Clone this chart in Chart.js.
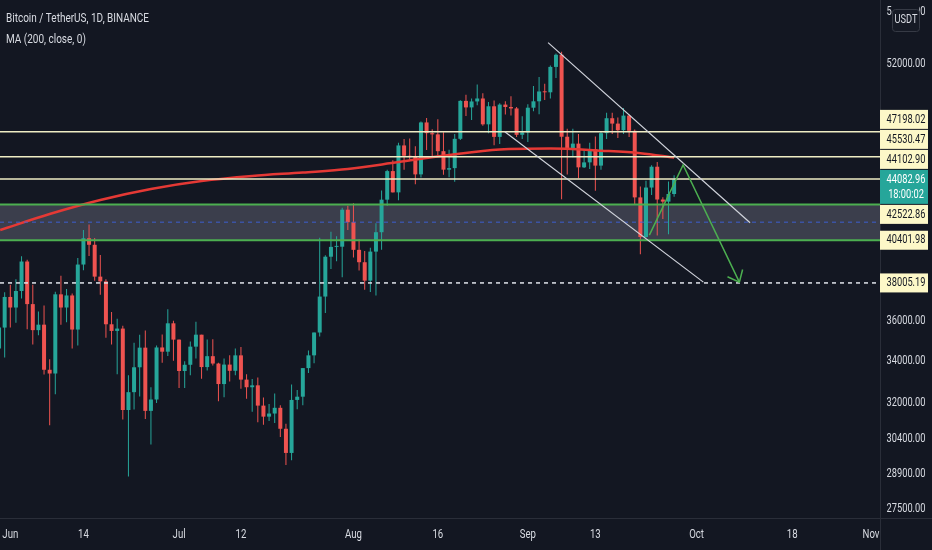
<!DOCTYPE html>
<html>
<head>
<meta charset="utf-8">
<title>BTCUSDT 1D</title>
<script src="https://cdn.jsdelivr.net/npm/chart.js@4.4.1/dist/chart.umd.min.js"></script>
<style>
  html, body { margin: 0; padding: 0; background: #131722; }
  #wrap { width: 932px; height: 550px; }
</style>
</head>
<body>
<div id="wrap"><canvas id="btcChart" width="932" height="550"></canvas></div>
<script>
// daily candles from 30 May 2021 (the last one, 27 Sep, is still open)
const firstDate = '2021-05-30';
const opens = [
  34600, 35650,
  37250, 36690, 37570, 39190, 36870, 35520, 35800, 33560, 33380, 37390, 36690, 37330, 35550, 39020, 40520,
  40140, 38350, 38090, 35820, 35480, 35600, 31680, 32500, 33680, 34640, 31640, 32160, 34650, 34440, 35870,
  35040, 33500, 33800, 34690, 35290, 33690, 34220, 33860, 32880, 33810, 33510, 34260, 33090, 32730, 32820, 31880,
  31380, 31520, 31780, 30840, 29790, 32140, 32290, 33640, 34260, 35400, 37270, 39460, 40020, 40030, 42210,
  41460, 39850, 39150, 38130, 39750, 40870, 42820, 44610, 43270, 46280, 45600, 45530, 44400, 47830, 47100, 47020,
  45900, 44700, 44800, 46720, 49330, 48870, 49290, 49500, 47700, 48950, 46850, 49070, 48900, 48800, 46990,
  47150, 48850, 49300, 50000, 49940, 51790, 52700, 46860, 46070, 46400, 44850, 45170, 46030, 44960, 47100,
  48120, 47750, 47300, 48300, 47260, 42960, 40590, 43570, 44890, 42830, 42700, 43170
];
const highs = [
  36400, 37500,
  37900, 38200, 39480, 39290, 37900, 36480, 36790, 34070, 37530, 38400, 37680, 37440, 39390, 41000, 41330,
  40530, 39560, 38200, 36460, 36100, 35750, 33300, 34880, 35290, 35500, 32730, 34750, 35300, 36600, 36000,
  35050, 33970, 34950, 35950, 35290, 35050, 35060, 33900, 34100, 34260, 34600, 34670, 33340, 33120, 33190, 32250,
  31950, 32440, 31900, 31060, 32860, 32600, 33650, 34500, 35400, 40550, 39540, 40900, 40640, 42320, 42450,
  42600, 40460, 39780, 39970, 41400, 43390, 44700, 45310, 46450, 46700, 46750, 46220, 47890, 48140, 47370, 48050,
  47160, 46000, 47050, 49380, 49760, 49500, 50500, 49870, 49250, 49350, 49170, 49300, 49650, 48900, 48250,
  49100, 50400, 51050, 50560, 51900, 52800, 52920, 47400, 47400, 47050, 45990, 46460, 46880, 47250, 48490,
  48500, 48170, 48830, 48380, 47350, 43640, 44000, 44990, 45200, 42970, 43950, 44350
];
const lows = [
  33400, 34150,
  35650, 35900, 37170, 35570, 34800, 35260, 33330, 31000, 32400, 35800, 35920, 34600, 34750, 38700, 39500,
  38120, 37370, 35130, 34800, 33350, 31250, 28800, 31700, 32300, 31270, 30150, 32000, 33900, 34230, 34000,
  32700, 32700, 33300, 34100, 33130, 33530, 33770, 32080, 32260, 33000, 33300, 32660, 32200, 31600, 31130, 31020,
  31180, 31100, 30480, 29280, 29480, 31710, 31900, 33400, 33880, 35200, 36400, 38770, 39200, 38320, 41000,
  39420, 38690, 37640, 37510, 37330, 39850, 42450, 43260, 42780, 44700, 45350, 43770, 44200, 45970, 45520, 45600,
  44380, 44210, 43930, 46640, 48280, 48000, 49030, 47600, 47100, 46300, 46370, 48370, 48300, 46850, 46700,
  46500, 48600, 48400, 49400, 49500, 50970, 42850, 44400, 45500, 44150, 44800, 44740, 43370, 44700, 46700,
  47040, 46770, 47050, 46850, 42500, 39600, 40560, 43100, 40680, 41650, 40750, 43000
];
const closes = [
  35650, 37250,
  36690, 37570, 39190, 36870, 35520, 35800, 33560, 33380, 37390, 36690, 37330, 35550, 39020, 40520, 40140,
  38350, 38090, 35820, 35480, 35600, 31680, 32500, 33680, 34640, 31640, 32160, 34650, 34440, 35870, 35040,
  33500, 33800, 34690, 35290, 33690, 34220, 33860, 32880, 33810, 33510, 34260, 33090, 32730, 32820, 31880, 31380,
  31520, 31780, 30840, 29790, 32140, 32290, 33640, 34260, 35400, 37270, 39460, 40020, 40030, 42210, 41460,
  39850, 39150, 38130, 39750, 40870, 42820, 44610, 43270, 46280, 45600, 45530, 44400, 47830, 47100, 47020, 45900,
  44700, 44800, 46720, 49330, 48870, 49290, 49500, 47700, 48950, 46850, 49070, 48900, 48800, 46990, 47150,
  48850, 49300, 50000, 49940, 51790, 52700, 46860, 46070, 46400, 44850, 45170, 46030, 44960, 47100, 48120,
  47750, 47300, 48300, 47260, 42960, 40590, 43570, 44890, 42830, 42700, 43170, 44082.96
];

// time axis: days counted from 1 Jun 2021
const tickDays = [0, 13, 30, 41, 61, 76, 92, 104, 122, 139, 153];
const tickLabels = ['Jun', '14', 'Jul', '12', 'Aug', '16', 'Sep', '13', 'Oct', '18', 'Nov'];
const priceTicks = [56000, 52000, 36000, 34000, 32000, 30400, 28900, 27500];

// MA 200 at a few days
const maDays = [-1.8, 7, 16, 25, 34, 43, 52, 60, 69, 78, 87, 96, 105, 112, 118];
const maValues = [41000, 41950, 42800, 43480, 43980, 44300, 44520, 44740, 45190, 45650, 46010, 46070, 45930, 45770, 45480];

// horizontal levels
const levels = [47198.02, 45530.47, 44102.90];
const zone = [40401.98, 42522.86];
const support = 38005.19;
const lastPrice = 44082.96;
const countdown = '18:00:02';

// hand drawings as [day, price]
const channelTop = [[95.6, 53620], [131.5, 41430]];
const channelBottom = [[87.9, 47198], [123.2, 38050]];
const projection = [[113.6, 40700], [119.6, 45000], [129.6, 38050]];

const UP = '#26a69a';
const DOWN = '#ef5350';
const BG = '#131722';
const TEXT = '#d8dbe2';
const FONT = "Roboto, 'DejaVu Sans', sans-serif";
const SQUEEZE = 0.74; // the screenshot is horizontally compressed

const dayZero = (Date.parse(firstDate) - Date.parse('2021-06-01')) / 86400000;
const days = opens.map((_, i) => dayZero + i);
const candleColors = closes.map((c, i) => c >= opens[i] ? UP : DOWN);

function squeezed(ctx, text, x, y, align, size, color) {
  ctx.save();
  ctx.font = size + 'px ' + FONT;
  ctx.fillStyle = color;
  ctx.textBaseline = 'middle';
  ctx.textAlign = align;
  ctx.translate(x, y);
  ctx.scale(SQUEEZE, 1);
  ctx.fillText(text, 0, 0);
  ctx.restore();
}

function hline(ctx, area, y, color, width, dash) {
  ctx.save();
  ctx.strokeStyle = color;
  ctx.lineWidth = width;
  ctx.setLineDash(dash || []);
  ctx.beginPath();
  ctx.moveTo(area.left, y);
  ctx.lineTo(area.right, y);
  ctx.stroke();
  ctx.restore();
}

function polyline(chart, pts, color, width) {
  const {ctx, scales: {x, y}} = chart;
  ctx.save();
  ctx.strokeStyle = color;
  ctx.lineWidth = width;
  ctx.beginPath();
  pts.forEach((p, i) => {
    const px = x.getPixelForValue(p[0]), py = y.getPixelForValue(p[1]);
    if (i === 0) ctx.moveTo(px, py); else ctx.lineTo(px, py);
  });
  ctx.stroke();
  ctx.restore();
}

const drawings = {
  id: 'drawings',
  beforeDatasetsDraw(chart) {
    const {ctx, chartArea: a, scales: {y}} = chart;
    const top = y.getPixelForValue(zone[1]);
    const bot = y.getPixelForValue(zone[0]);
    ctx.save();
    ctx.fillStyle = 'rgba(120, 123, 140, 0.4)';
    ctx.fillRect(a.left, top, a.right - a.left, bot - top);
    ctx.restore();
  },
  afterDatasetsDraw(chart) {
    const {ctx, chartArea: a, scales: {x, y}} = chart;
    hline(ctx, a, y.getPixelForValue((zone[0] + zone[1]) / 2), 'rgba(60, 100, 230, 0.85)', 1, [4, 4]);
    hline(ctx, a, y.getPixelForValue(zone[1]), '#4caf50', 2);
    hline(ctx, a, y.getPixelForValue(zone[0]), '#4caf50', 2);
    levels.forEach(p => hline(ctx, a, y.getPixelForValue(p), '#efedc4', 1.5));
    hline(ctx, a, y.getPixelForValue(support), '#e0e3eb', 1.5, [4, 4]);

    ctx.save();
    ctx.beginPath();
    ctx.rect(a.left, a.top, a.right - a.left, a.bottom - a.top);
    ctx.clip();
    polyline(chart, channelTop, '#d1d4dc', 1.2);
    polyline(chart, channelBottom, '#d1d4dc', 1.2);
    polyline(chart, projection, '#4caf50', 1.5);
    // arrow head on the projection
    const n = projection.length;
    const tx = x.getPixelForValue(projection[n - 1][0]), ty = y.getPixelForValue(projection[n - 1][1]);
    const fx = x.getPixelForValue(projection[n - 2][0]), fy = y.getPixelForValue(projection[n - 2][1]);
    const ang = Math.atan2(fy - ty, fx - tx);
    ctx.strokeStyle = '#4caf50';
    ctx.lineWidth = 1.5;
    ctx.beginPath();
    ctx.moveTo(tx + 13 * Math.cos(ang - 0.7), ty + 13 * Math.sin(ang - 0.7));
    ctx.lineTo(tx, ty);
    ctx.lineTo(tx + 13 * Math.cos(ang + 0.7), ty + 13 * Math.sin(ang + 0.7));
    ctx.stroke();
    ctx.restore();
  },
  afterDraw(chart) {
    const {ctx, chartArea: a, scales: {x, y}} = chart;
    const W = chart.width, H = chart.height;
    ctx.save();
    // pane borders
    ctx.strokeStyle = '#2a2e39';
    ctx.lineWidth = 1;
    ctx.beginPath();
    ctx.moveTo(a.right + 0.5, 0); ctx.lineTo(a.right + 0.5, H);
    ctx.moveTo(0, a.bottom + 0.5); ctx.lineTo(W, a.bottom + 0.5);
    ctx.stroke();
    ctx.restore();

    // axis labels
    x.ticks.forEach((t, i) => squeezed(ctx, tickLabels[i], x.getPixelForValue(t.value), a.bottom + 17, 'center', 13, TEXT));
    const mid = a.right + (W - a.right) / 2;
    y.ticks.forEach(t => squeezed(ctx, t.value.toFixed(2), mid, y.getPixelForValue(t.value), 'center', 12.5, TEXT));

    // legend text
    squeezed(ctx, 'Bitcoin / TetherUS, 1D, BINANCE', 6, 19, 'left', 13.5, TEXT);
    squeezed(ctx, 'MA (200, close, 0)', 6, 40, 'left', 13.5, TEXT);

    // price labels on the scale
    const bx = a.right, bw = 48, bh = 19;
    function box(c, label, fill, color, h) {
      ctx.fillStyle = fill;
      ctx.fillRect(bx, c - bh / 2, bw, h || bh);
      squeezed(ctx, label, mid, c, 'center', 12.5, color);
    }
    const cy = y.getPixelForValue(lastPrice);
    let limit = cy - bh / 2;
    levels.slice().sort((p, q) => p - q).forEach(p => {
      const c = Math.min(y.getPixelForValue(p), limit - bh / 2 - 1);
      box(c, p.toFixed(2), '#fdf8c8', '#131722');
      limit = c - bh / 2;
    });
    box(cy, lastPrice.toFixed(2), UP, '#ffffff', 34);
    squeezed(ctx, countdown, mid, cy + 15, 'center', 12.5, '#ffffff');
    limit = cy - bh / 2 + 34;
    [zone[1], zone[0], support].forEach(p => {
      const c = Math.max(y.getPixelForValue(p), limit + bh / 2 + 1);
      box(c, p.toFixed(2), '#fdf8c8', '#131722');
      limit = c + bh / 2;
    });

    // currency badge over the top tick
    ctx.save();
    ctx.fillStyle = BG;
    ctx.fillRect(892, 0, 27, 33);
    ctx.fillStyle = '#161a25';
    ctx.strokeStyle = '#363a45';
    ctx.beginPath();
    ctx.roundRect(892.5, 9.5, 27, 22, 3);
    ctx.fill();
    ctx.stroke();
    ctx.restore();
    squeezed(ctx, 'USDT', 906, 20, 'center', 12.5, TEXT);
  }
};

const ctx = document.getElementById('btcChart').getContext('2d');
const btcChart = new Chart(ctx, {
  type: 'bar',
  data: {
    datasets: [
      {
        type: 'line',
        label: 'MA (200, close, 0)',
        data: maDays.map((d, i) => ({x: d, y: maValues[i]})),
        borderColor: '#e53935',
        borderWidth: 2.5,
        pointRadius: 0,
        cubicInterpolationMode: 'monotone',
        order: 0
      },
      {
        label: 'body',
        data: days.map((d, i) => ({x: d, y: [opens[i], closes[i]]})),
        backgroundColor: candleColors,
        maxBarThickness: 4,
        minBarLength: 1,
        grouped: false,
        order: 1
      },
      {
        label: 'wick',
        data: days.map((d, i) => ({x: d, y: [lows[i], highs[i]]})),
        backgroundColor: candleColors,
        maxBarThickness: 1,
        grouped: false,
        order: 2
      }
    ]
  },
  options: {
    responsive: false,
    animation: false,
    layout: { padding: 0, autoPadding: false },
    plugins: {
      legend: { display: false },
      tooltip: { enabled: false }
    },
    scales: {
      x: {
        type: 'linear',
        offset: false,
        min: -1.83,
        max: 154.6,
        grid: { display: false, drawTicks: false },
        border: { display: false },
        ticks: { display: false },
        afterBuildTicks: s => { s.ticks = tickDays.map(v => ({value: v})); },
        afterFit: s => { s.height = 32; s.paddingLeft = 0; s.paddingRight = 0; }
      },
      y: {
        type: 'logarithmic',
        position: 'right',
        min: 27139,
        max: 57000,
        grid: { display: false, drawTicks: false },
        border: { display: false },
        ticks: { display: false },
        afterBuildTicks: s => { s.ticks = priceTicks.map(v => ({value: v})); },
        afterFit: s => { s.width = 52; s.paddingTop = 0; s.paddingBottom = 0; }
      }
    }
  },
  plugins: [drawings]
});
</script>
</body>
</html>
